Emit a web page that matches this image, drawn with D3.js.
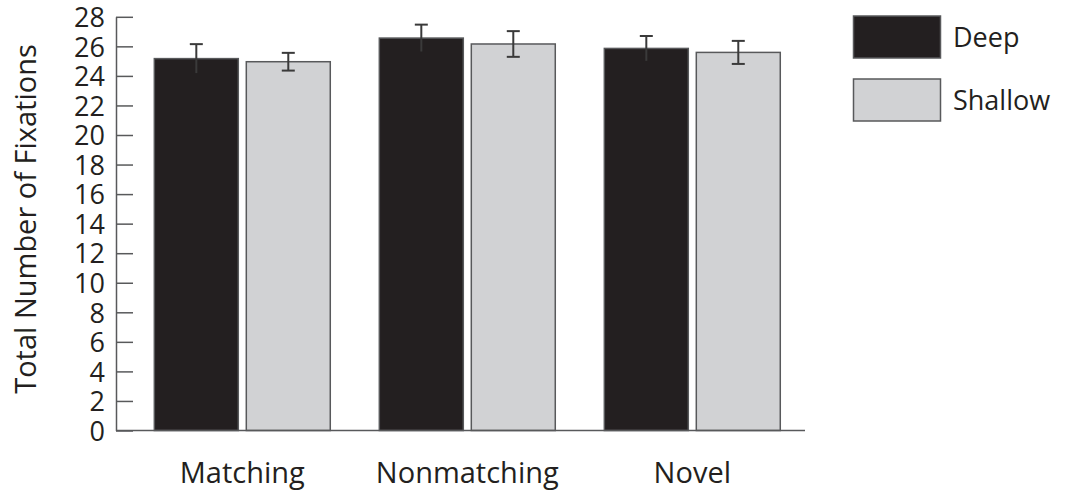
<!DOCTYPE html>
<html><head><meta charset="utf-8">
<script src="https://cdn.jsdelivr.net/npm/d3@7"></script>
<style>body{margin:0;background:#fff}svg{display:block}text{font-family:"Open Sans",sans-serif;fill:#231f20}</style>
</head><body>
<script>
const categories = ["Matching", "Nonmatching", "Novel"];
const seriesNames = ["Deep", "Shallow"];
const deepValues = [25.17, 26.56, 25.86];
const shallowValues = [24.96, 26.16, 25.59];
const deepErrors = [0.98, 0.91, 0.84];
const shallowErrors = [0.6, 0.87, 0.78];
const yTicks = [0,2,4,6,8,10,12,14,16,18,20,22,24,26,28];
const yLabel = "Total Number of Fixations";
const colors = {Deep: "#231f20", Shallow: "#d1d2d4"};

const W = 1069, H = 498;
const svg = d3.select("body").append("svg").attr("width", W).attr("height", H);

const y = d3.scaleLinear().domain([0, 28]).range([430.5, 16.8]);
const x0 = d3.scaleBand().domain(categories).range([129.8, 804.8]).paddingInner(0.218).paddingOuter(0.109);
const x1 = d3.scaleBand().domain(seriesNames).range([0, x0.bandwidth()]).paddingInner(0.087);

const data = categories.map((c, i) => ({
  cat: c,
  items: [
    {s: "Deep", v: deepValues[i], e: deepErrors[i]},
    {s: "Shallow", v: shallowValues[i], e: shallowErrors[i]}
  ]
}));

const axisColor = "#58595b";

// bars
const g = svg.append("g");
const groups = g.selectAll("g.grp").data(data).join("g")
  .attr("transform", d => `translate(${x0(d.cat)},0)`);
groups.selectAll("rect").data(d => d.items).join("rect")
  .attr("x", d => x1(d.s)).attr("width", x1.bandwidth())
  .attr("y", d => y(d.v)).attr("height", d => y(0) - y(d.v))
  .attr("fill", d => colors[d.s]).attr("stroke", axisColor).attr("stroke-width", 1.5);

// error bars
const eb = groups.selectAll("g.eb").data(d => d.items).join("g").attr("class", "eb")
  .attr("stroke", "#3a3a3a").attr("stroke-width", 2);
eb.append("line").attr("x1", d => x1(d.s) + x1.bandwidth()/2).attr("x2", d => x1(d.s) + x1.bandwidth()/2)
  .attr("y1", d => y(d.v + d.e)).attr("y2", d => y(d.v - d.e));
eb.append("line").attr("x1", d => x1(d.s) + x1.bandwidth()/2 - 6.5).attr("x2", d => x1(d.s) + x1.bandwidth()/2 + 6.5)
  .attr("y1", d => y(d.v + d.e)).attr("y2", d => y(d.v + d.e));
eb.filter(d => d.s === "Shallow").append("line").attr("x1", d => x1(d.s) + x1.bandwidth()/2 - 6.5).attr("x2", d => x1(d.s) + x1.bandwidth()/2 + 6.5)
  .attr("y1", d => y(d.v - d.e)).attr("y2", d => y(d.v - d.e));

// y axis
const yAxis = svg.append("g").attr("transform", "translate(116,0)")
  .call(d3.axisRight(y).tickValues(yTicks).tickSize(17).tickSizeOuter(0).tickFormat(d3.format("d")));
yAxis.select(".domain").attr("stroke", axisColor).attr("stroke-width", 1.5);
yAxis.selectAll(".tick line").attr("stroke", axisColor).attr("stroke-width", 1.5);
yAxis.selectAll(".tick text").attr("x", -11).attr("text-anchor", "end").attr("dy", "0.36em")
  .style("font-size", "27px").attr("fill", "#231f20");

// x axis
const xAxis = svg.append("g").attr("transform", `translate(0,${y(0)})`)
  .call(d3.axisBottom(x0).tickSize(0).tickSizeOuter(0));
xAxis.select(".domain").attr("d", `M116,0H805`).attr("stroke", axisColor).attr("stroke-width", 1.5);
xAxis.selectAll(".tick text").attr("y", 52).attr("dy", 0).style("font-size", "29px").attr("fill", "#231f20");

// y label
svg.append("text").attr("transform", "translate(36,219) rotate(-90)").attr("text-anchor", "middle")
  .style("font-size", "29px").text(yLabel);

// legend
const legend = svg.append("g");
seriesNames.forEach((s, i) => {
  const ly = [16, 79][i];
  legend.append("rect").attr("x", 853.5).attr("y", ly).attr("width", 87).attr("height", 42)
    .attr("fill", colors[s]).attr("stroke", axisColor).attr("stroke-width", 1.5);
  legend.append("text").attr("x", 953).attr("y", ly + 31).style("font-size", "27px").text(s);
});
</script>
</body></html>
